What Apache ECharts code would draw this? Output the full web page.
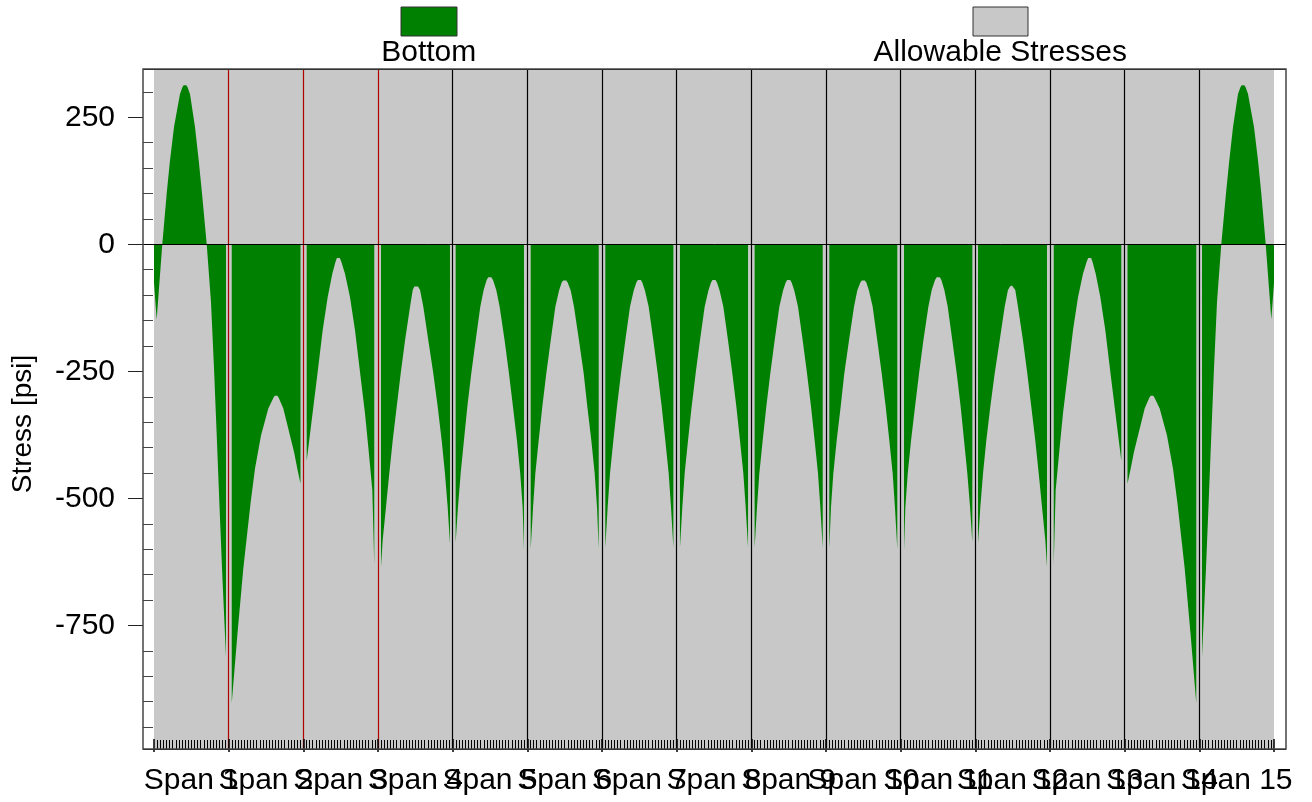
<!DOCTYPE html>
<html>
<head>
<meta charset="utf-8">
<title>Stress [psi]</title>
<script src="https://cdn.jsdelivr.net/npm/echarts@6/dist/echarts.min.js"></script>
<style>
  html, body { margin: 0; padding: 0; background: #ffffff; }
  #chart { width: 1312px; height: 802px; }
</style>
</head>
<body>
<div id="chart"></div>
<script>
// ---- data -------------------------------------------------------------
const spanLabels = ['Span 1', 'Span 2', 'Span 3', 'Span 4', 'Span 5', 'Span 6', 'Span 7', 'Span 8',
  'Span 9', 'Span 10', 'Span 11', 'Span 12', 'Span 13', 'Span 14', 'Span 15'];
const spanCount = 15;
// interior supports (station in spans)
const supportStations = [1, 2, 3, 4, 5, 6, 7, 8, 9, 10, 11, 12, 13, 14];

// allowable stress band [psi]
const allowableTension = 345;
const allowableCompression = -993;

// stress axis ticks [psi]
const majorStressTicks = [-750, -500, -250, 0, 250];
const minorStressTicks = [-950, -900, -850, -800, -700, -650, -600, -550, -450, -400, -350, -300,
  -200, -150, -100, -50, 50, 100, 150, 200, 300];

// bottom fibre stress along each girder: [station (spans), stress (psi)]
const span01 = [[0.000, -76], [0.036, -148], [0.111, 0], [0.170, 100], [0.214, 165], [0.268, 231], [0.348, 296],
  [0.380, 309], [0.398, 313], [0.415, 314], [0.432, 313], [0.450, 309], [0.482, 296], [0.549, 231], [0.599, 165],
  [0.643, 100], [0.706, 0], [0.763, -113], [0.804, -245], [0.840, -376], [0.875, -507], [0.911, -638],
  [0.964, -812]];
const span02 = [[1.041, -903], [1.116, -769], [1.196, -638], [1.295, -507], [1.353, -441], [1.433, -376],
  [1.531, -323], [1.600, -302], [1.617, -298], [1.634, -297], [1.652, -298], [1.670, -302], [1.732, -323],
  [1.821, -376], [1.875, -408], [1.919, -441], [1.962, -471]];
const span03 = [[2.045, -426], [2.192, -251], [2.259, -169], [2.326, -104], [2.388, -58], [2.430, -35],
  [2.449, -27], [2.468, -24], [2.489, -27], [2.510, -35], [2.558, -58], [2.625, -104], [2.692, -169],
  [2.759, -251], [2.826, -333], [2.870, -399], [2.924, -484], [2.950, -631]];
const span04 = [[3.040, -635], [3.063, -582], [3.107, -517], [3.151, -451], [3.197, -386], [3.250, -320],
  [3.304, -254], [3.362, -189], [3.429, -123], [3.465, -90], [3.487, -83], [3.509, -81], [3.536, -83],
  [3.563, -90], [3.607, -123], [3.674, -189], [3.741, -254], [3.800, -320], [3.853, -386], [3.897, -451],
  [3.933, -517], [3.964, -589]];
const span05 = [[4.040, -586], [4.071, -517], [4.107, -451], [4.151, -386], [4.196, -320], [4.249, -254],
  [4.308, -189], [4.370, -123], [4.415, -90], [4.455, -70], [4.476, -65], [4.496, -63], [4.518, -65],
  [4.540, -70], [4.584, -90], [4.629, -123], [4.696, -189], [4.754, -254], [4.808, -320], [4.861, -386],
  [4.905, -451], [4.937, -517], [4.955, -602]];
const span06 = [[5.045, -600], [5.077, -517], [5.107, -451], [5.152, -386], [5.200, -320], [5.254, -254],
  [5.313, -189], [5.375, -123], [5.425, -91], [5.460, -75], [5.480, -71], [5.501, -69], [5.520, -71],
  [5.540, -75], [5.581, -91], [5.625, -123], [5.692, -189], [5.755, -254], [5.804, -320], [5.857, -386],
  [5.902, -451], [5.933, -517], [5.956, -599]];
const span07 = [[6.044, -597], [6.076, -517], [6.107, -451], [6.152, -386], [6.200, -320], [6.254, -254],
  [6.312, -189], [6.375, -123], [6.425, -91], [6.460, -75], [6.480, -70], [6.500, -68], [6.520, -70],
  [6.540, -75], [6.575, -91], [6.625, -123], [6.688, -189], [6.746, -254], [6.800, -320], [6.848, -386],
  [6.893, -451], [6.924, -517], [6.956, -597]];
const span08 = [[7.044, -597], [7.076, -517], [7.107, -451], [7.152, -386], [7.200, -320], [7.254, -254],
  [7.312, -189], [7.375, -123], [7.425, -91], [7.460, -75], [7.480, -70], [7.500, -68], [7.520, -70],
  [7.540, -75], [7.575, -91], [7.625, -123], [7.688, -189], [7.746, -254], [7.800, -320], [7.848, -386],
  [7.893, -451], [7.924, -517], [7.956, -597]];
const span09 = [[8.044, -597], [8.076, -517], [8.107, -451], [8.152, -386], [8.200, -320], [8.254, -254],
  [8.312, -189], [8.375, -123], [8.425, -91], [8.460, -75], [8.480, -70], [8.500, -68], [8.520, -70],
  [8.540, -75], [8.575, -91], [8.625, -123], [8.688, -189], [8.746, -254], [8.800, -320], [8.848, -386],
  [8.893, -451], [8.924, -517], [8.956, -597]];
const span10 = [[9.044, -599], [9.067, -517], [9.098, -451], [9.143, -386], [9.196, -320], [9.245, -254],
  [9.308, -189], [9.375, -123], [9.419, -91], [9.460, -75], [9.480, -71], [9.499, -69], [9.520, -71],
  [9.540, -75], [9.575, -91], [9.625, -123], [9.687, -189], [9.746, -254], [9.800, -320], [9.848, -386],
  [9.893, -451], [9.923, -517], [9.955, -600]];
const span11 = [[10.045, -602], [10.063, -517], [10.095, -451], [10.139, -386], [10.192, -320], [10.246, -254],
  [10.304, -189], [10.371, -123], [10.416, -90], [10.460, -70], [10.482, -65], [10.504, -63], [10.525, -65],
  [10.545, -70], [10.585, -90], [10.630, -123], [10.692, -189], [10.751, -254], [10.804, -320],
  [10.849, -386], [10.893, -451], [10.929, -517], [10.960, -586]];
const span12 = [[11.036, -589], [11.067, -517], [11.103, -451], [11.147, -386], [11.200, -320], [11.259, -254],
  [11.326, -189], [11.393, -123], [11.437, -90], [11.464, -83], [11.491, -81], [11.513, -83], [11.535, -90],
  [11.571, -123], [11.638, -189], [11.696, -254], [11.750, -320], [11.803, -386], [11.849, -451],
  [11.893, -517], [11.937, -582], [11.960, -635]];
const span13 = [[12.050, -631], [12.076, -484], [12.130, -399], [12.174, -333], [12.241, -251], [12.308, -169],
  [12.375, -104], [12.442, -58], [12.490, -35], [12.511, -27], [12.532, -24], [12.551, -27], [12.570, -35],
  [12.612, -58], [12.674, -104], [12.741, -169], [12.808, -251], [12.955, -426]];
const span14 = [[13.038, -471], [13.081, -441], [13.125, -408], [13.179, -376], [13.268, -323], [13.330, -302],
  [13.348, -298], [13.366, -297], [13.383, -298], [13.400, -302], [13.469, -323], [13.567, -376],
  [13.647, -441], [13.705, -507], [13.804, -638], [13.884, -769], [13.959, -903]];
const span15 = [[14.036, -812], [14.089, -638], [14.125, -507], [14.160, -376], [14.196, -245], [14.237, -113],
  [14.294, 0], [14.357, 100], [14.401, 165], [14.451, 231], [14.518, 296], [14.550, 309], [14.568, 313],
  [14.585, 314], [14.602, 313], [14.620, 309], [14.652, 296], [14.732, 231], [14.786, 165], [14.830, 100],
  [14.889, 0], [14.964, -148], [15.000, -76]];

const bottomStressBySpan = [span01, span02, span03, span04, span05, span06, span07, span08,
  span09, span10, span11, span12, span13, span14, span15];

// ---- series data --------------------------------------------------------
// each girder is its own filled piece: a null point at every support breaks the area
const bottomSeriesData = [];
bottomStressBySpan.forEach(function (girder, i) {
  if (i > 0) bottomSeriesData.push([i, null]);
  girder.forEach(function (p) { bottomSeriesData.push(p); });
});

const allowableSeriesData = [[0, allowableTension], [spanCount, allowableTension]];

// ---- styling ------------------------------------------------------------
const FONT = '"Liberation Sans", Arial, Helvetica, sans-serif';
const GREEN = '#008000';
const GREY = '#c8c8c8';
const PIER_RED = '#b00000';

// support lines: first three in red, the rest in black
const supportLines = supportStations.map(function (s, i) {
  return { xAxis: s, lineStyle: { color: i < 3 ? PIER_RED : '#000000', width: 1.2, type: 'solid' } };
});

const chart = echarts.init(document.getElementById('chart'), null, { renderer: 'canvas' });

const option = {
  animation: false,
  backgroundColor: '#ffffff',
  textStyle: { fontFamily: FONT },
  grid: [
    // outer frame of the plot
    { left: 143, right: 26, top: 69, bottom: 53, show: true, borderColor: '#454545', borderWidth: 1.5,
      backgroundColor: 'rgba(0,0,0,0)', z: 20 },
    // span region
    { left: 154, right: 38, top: 69, bottom: 53, show: false }
  ],
  xAxis: [
    { gridIndex: 0, type: 'value', min: -0.145, max: 15.155, show: false },
    {
      gridIndex: 1, type: 'value', min: 0, max: spanCount, interval: 1, z: 10,
      axisLine: { show: false, onZero: false },
      axisLabel: { show: false },
      axisTick: { show: true, inside: true, length: 10, lineStyle: { color: '#000', width: 1.5 } },
      minorTick: { show: true, splitNumber: 24, length: 9, lineStyle: { color: '#000', width: 1 } },
      splitLine: { show: false },
      minorSplitLine: { show: false }
    },
    {
      gridIndex: 1, type: 'category', data: spanLabels, boundaryGap: true, position: 'bottom', z: 10,
      axisLine: { show: false, onZero: false },
      axisTick: { show: true, inside: false, length: 3, alignWithLabel: false, lineStyle: { color: '#000', width: 1.5 } },
      axisLabel: { show: true, interval: 0, fontSize: 30, color: '#000', margin: 17, fontFamily: FONT },
      splitLine: { show: false }
    }
  ],
  yAxis: [
    {
      // zero line drawn over the whole frame width
      gridIndex: 0, type: 'value', min: allowableCompression, max: allowableTension,
      interval: -allowableCompression, z: 12,
      axisLine: { show: false }, axisTick: { show: false }, axisLabel: { show: false },
      splitLine: { show: true, lineStyle: { color: '#000', width: 1 } }
    },
    {
      // minor ticks in the strip between frame and span region
      gridIndex: 1, type: 'value', position: 'left', offset: 1,
      min: allowableCompression, max: allowableTension, z: 10,
      axisLine: { show: false, onZero: false },
      axisTick: { show: true, inside: false, length: 10, customValues: minorStressTicks,
        lineStyle: { color: '#444', width: 1 } },
      axisLabel: { show: false },
      splitLine: { show: false }
    },
    {
      gridIndex: 1, type: 'value', position: 'left', offset: 11,
      min: allowableCompression, max: allowableTension, z: 10,
      name: 'Stress [psi]', nameLocation: 'middle', nameGap: 106, nameRotate: 90,
      nameTextStyle: { fontSize: 28, color: '#000', fontFamily: FONT, padding: [0, 30, 0, 0] },
      axisLine: { show: false, onZero: false },
      axisTick: { show: true, inside: false, length: 15, customValues: majorStressTicks,
        lineStyle: { color: '#222', width: 1 } },
      axisLabel: { show: true, customValues: majorStressTicks, fontSize: 30, color: '#000', margin: 28,
        fontFamily: FONT },
      splitLine: { show: false }
    }
  ],
  series: [
    {
      name: 'Allowable Stresses', type: 'line', xAxisIndex: 1, yAxisIndex: 1,
      data: allowableSeriesData, showSymbol: false, silent: true, z: 1,
      lineStyle: { width: 0 },
      areaStyle: { color: GREY, opacity: 1, origin: 'start' }
    },
    {
      name: 'Bottom', type: 'line', xAxisIndex: 1, yAxisIndex: 1,
      data: bottomSeriesData, showSymbol: false, silent: true, connectNulls: false, z: 2,
      smooth: false,
      lineStyle: { width: 0, color: GREEN },
      areaStyle: { color: GREEN, opacity: 1 },
      markLine: {
        silent: true, animation: false, symbol: ['none', 'none'],
        label: { show: false },
        emphasis: { disabled: true },
        data: supportLines
      }
    }
  ],
  graphic: [
    { type: 'rect', shape: { x: 401, y: 7, width: 56, height: 29 },
      style: { fill: GREEN, stroke: '#333', lineWidth: 1 } },
    { type: 'text', x: 428.75, y: 53,
      style: { text: 'Bottom', font: '30px ' + FONT, fill: '#000', align: 'center', verticalAlign: 'middle',
        textAlign: 'center', textVerticalAlign: 'middle' } },
    { type: 'rect', shape: { x: 973, y: 7, width: 55, height: 29 },
      style: { fill: GREY, stroke: '#333', lineWidth: 1 } },
    { type: 'text', x: 1000.25, y: 53,
      style: { text: 'Allowable Stresses', font: '30px ' + FONT, fill: '#000', align: 'center',
        verticalAlign: 'middle', textAlign: 'center', textVerticalAlign: 'middle' } }
  ]
};

chart.setOption(option);
</script>
</body>
</html>
